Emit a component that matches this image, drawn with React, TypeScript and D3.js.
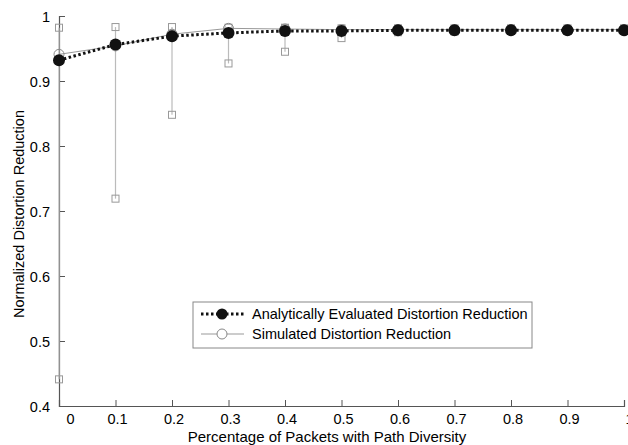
import React, { useEffect, useRef } from 'react';
import * as d3 from 'd3';

// Percentage of packets with path diversity
const xValues = [0, 0.1, 0.2, 0.3, 0.4, 0.5, 0.6, 0.7, 0.8, 0.9, 1];
// analytically evaluated distortion reduction
const analytical = [0.932, 0.956, 0.969, 0.974, 0.977, 0.977, 0.978, 0.978, 0.978, 0.978, 0.978];
// simulated distortion reduction (mean, max, min)
const simulated = [0.941, 0.954, 0.972, 0.981, 0.980, 0.979, 0.979, 0.979, 0.979, 0.979, 0.979];
const simMax = [0.982, 0.983, 0.983, 0.982, 0.982, 0.981, 0.981, 0.981, 0.981, 0.981, 0.981];
const simMin = [0.441, 0.719, 0.848, 0.927, 0.945, 0.966, 0.975, 0.976, 0.977, 0.977, 0.977];

const xTicks = [0, 0.1, 0.2, 0.3, 0.4, 0.5, 0.6, 0.7, 0.8, 0.9, 1];
const yTicks = [0.4, 0.5, 0.6, 0.7, 0.8, 0.9, 1];

const App = () => {
    const ref = useRef<SVGSVGElement>(null);

    useEffect(() => {
        const width = 628;
        const height = 445;
        const font = '"Liberation Sans", Arial, sans-serif';
        const svg = d3.select(ref.current)
            .attr('width', width)
            .attr('height', height);
        svg.selectAll('*').remove();

        const x = d3.scaleLinear().domain([0, 1]).range([59, 624]);
        const y = d3.scaleLinear().domain([0.4, 1]).range([406, 16]);
        const axisColor = '#555';

        // axes (ticks point inward)
        const yAxis = svg.append('g')
            .attr('transform', `translate(${x(0)},0)`)
            .call(d3.axisLeft(y).tickValues(yTicks).tickSize(-6).tickPadding(9)
                .tickFormat((d: any) => d3.format('~g')(d)));
        const xAxis = svg.append('g')
            .attr('transform', `translate(0,${y(0.4)})`)
            .call(d3.axisBottom(x).tickValues(xTicks).tickSize(-6).tickPadding(8)
                .tickFormat((d: any) => d3.format('~g')(d)));
        [yAxis, xAxis].forEach(g => {
            g.select('.domain').attr('stroke', axisColor).attr('stroke-width', 1.2);
            g.selectAll('.tick line').attr('stroke', axisColor);
            g.selectAll('text').attr('fill', '#000').style('font-family', font).style('font-size', '14.5px');
        });
        // the 0 label sits right of the axis line, the 1 label runs off the edge
        xAxis.selectAll('.tick text').attr('dx', (d: any) => (d === 0 ? 11 : d === 1 ? 5 : 1.5));
        yAxis.selectAll('.tick text').attr('dy', '0.38em');

        // error bars of simulation
        const bars = svg.append('g');
        xValues.forEach((xv, i) => {
            bars.append('line')
                .attr('x1', x(xv)).attr('x2', x(xv))
                .attr('y1', y(simMax[i])).attr('y2', y(simMin[i]))
                .attr('stroke', '#bbb').attr('stroke-width', 1.2);
            [simMax[i], simMin[i]].forEach(v => {
                bars.append('rect')
                    .attr('x', x(xv) - 3.5).attr('y', y(v) - 3.5)
                    .attr('width', 7).attr('height', 7)
                    .attr('fill', 'none').attr('stroke', '#999').attr('stroke-width', 1);
            });
        });

        // simulated line
        const line = d3.line<number>().x((d, i) => x(xValues[i])).y(d => y(d));
        svg.append('path').datum(simulated)
            .attr('d', line)
            .attr('fill', 'none').attr('stroke', '#999').attr('stroke-width', 1);
        svg.append('g').selectAll('circle').data(simulated).enter().append('circle')
            .attr('cx', (d, i) => x(xValues[i])).attr('cy', d => y(d)).attr('r', 5)
            .attr('fill', 'none').attr('stroke', '#888').attr('stroke-width', 1);

        // analytical line
        svg.append('path').datum(analytical)
            .attr('d', line)
            .attr('fill', 'none').attr('stroke', '#111').attr('stroke-width', 3)
            .attr('stroke-dasharray', '2.5,2.5');
        svg.append('g').selectAll('circle').data(analytical).enter().append('circle')
            .attr('cx', (d, i) => x(xValues[i])).attr('cy', d => y(d)).attr('r', 6)
            .attr('fill', '#111');

        // legend
        const lg = svg.append('g');
        lg.append('rect').attr('x', 193).attr('y', 302).attr('width', 339).attr('height', 46)
            .attr('fill', '#fff').attr('stroke', '#888').attr('stroke-width', 1);
        lg.append('line').attr('x1', 201).attr('x2', 244).attr('y1', 314).attr('y2', 314)
            .attr('stroke', '#111').attr('stroke-width', 3).attr('stroke-dasharray', '2.5,2.5');
        lg.append('circle').attr('cx', 222).attr('cy', 314).attr('r', 5.5).attr('fill', '#111');
        lg.append('line').attr('x1', 201).attr('x2', 244).attr('y1', 334).attr('y2', 334)
            .attr('stroke', '#999').attr('stroke-width', 1);
        lg.append('circle').attr('cx', 222).attr('cy', 334).attr('r', 5)
            .attr('fill', '#fff').attr('stroke', '#888');
        lg.append('text').attr('x', 252).attr('y', 319).text('Analytically Evaluated Distortion Reduction')
            .style('font-family', font).style('font-size', '14.5px');
        lg.append('text').attr('x', 252).attr('y', 339).text('Simulated Distortion Reduction')
            .style('font-family', font).style('font-size', '14.5px');

        // axis titles
        svg.append('text')
            .attr('transform', `translate(24,${(y(0.4) + y(1)) / 2 + 3}) rotate(-90)`)
            .attr('text-anchor', 'middle')
            .text('Normalized Distortion Reduction')
            .style('font-family', font).style('font-size', '14.5px');
        svg.append('text')
            .attr('x', 327).attr('y', 442)
            .attr('text-anchor', 'middle')
            .text('Percentage of Packets with Path Diversity')
            .style('font-family', font).style('font-size', '15px');
    }, []);

    return (
        <div style={{ position: 'absolute', left: 0, top: 0 }}>
            <svg ref={ref} style={{ display: 'block', background: '#fff' }} />
        </div>
    );
};

export default App;
